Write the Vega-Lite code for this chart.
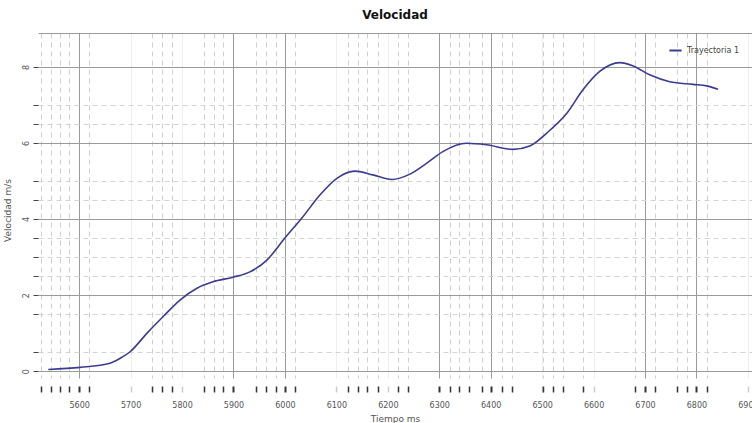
{
  "$schema": "https://vega.github.io/schema/vega-lite/v6.json",
  "width": 714,
  "height": 345,
  "autosize": {"type": "none"},
  "padding": {"left": 38, "top": 33, "right": 0, "bottom": 45},
  "background": "white",
  "title": {"text": "Velocidad", "font": "DejaVu Sans", "fontSize": 12, "fontWeight": "bold", "color": "#111", "anchor": "middle", "offset": 11},
  "config": {"view": {"stroke": null}},
  "data": {"values": [
    {"t": 5540, "v": 0.045, "serie": "Trayectoria 1"},
    {"t": 5602, "v": 0.10, "serie": "Trayectoria 1"},
    {"t": 5660, "v": 0.21, "serie": "Trayectoria 1"},
    {"t": 5680, "v": 0.34, "serie": "Trayectoria 1"},
    {"t": 5699, "v": 0.51, "serie": "Trayectoria 1"},
    {"t": 5732, "v": 1.0, "serie": "Trayectoria 1"},
    {"t": 5763, "v": 1.43, "serie": "Trayectoria 1"},
    {"t": 5796, "v": 1.87, "serie": "Trayectoria 1"},
    {"t": 5829, "v": 2.18, "serie": "Trayectoria 1"},
    {"t": 5860, "v": 2.35, "serie": "Trayectoria 1"},
    {"t": 5899, "v": 2.47, "serie": "Trayectoria 1"},
    {"t": 5932, "v": 2.61, "serie": "Trayectoria 1"},
    {"t": 5965, "v": 2.92, "serie": "Trayectoria 1"},
    {"t": 6000, "v": 3.50, "serie": "Trayectoria 1"},
    {"t": 6035, "v": 4.06, "serie": "Trayectoria 1"},
    {"t": 6068, "v": 4.63, "serie": "Trayectoria 1"},
    {"t": 6101, "v": 5.07, "serie": "Trayectoria 1"},
    {"t": 6136, "v": 5.26, "serie": "Trayectoria 1"},
    {"t": 6171, "v": 5.16, "serie": "Trayectoria 1"},
    {"t": 6208, "v": 5.04, "serie": "Trayectoria 1"},
    {"t": 6243, "v": 5.18, "serie": "Trayectoria 1"},
    {"t": 6276, "v": 5.47, "serie": "Trayectoria 1"},
    {"t": 6307, "v": 5.77, "serie": "Trayectoria 1"},
    {"t": 6353, "v": 5.99, "serie": "Trayectoria 1"},
    {"t": 6392, "v": 5.95, "serie": "Trayectoria 1"},
    {"t": 6443, "v": 5.83, "serie": "Trayectoria 1"},
    {"t": 6476, "v": 5.92, "serie": "Trayectoria 1"},
    {"t": 6509, "v": 6.26, "serie": "Trayectoria 1"},
    {"t": 6548, "v": 6.78, "serie": "Trayectoria 1"},
    {"t": 6579, "v": 7.39, "serie": "Trayectoria 1"},
    {"t": 6612, "v": 7.88, "serie": "Trayectoria 1"},
    {"t": 6651, "v": 8.11, "serie": "Trayectoria 1"},
    {"t": 6676, "v": 8.03, "serie": "Trayectoria 1"},
    {"t": 6709, "v": 7.79, "serie": "Trayectoria 1"},
    {"t": 6748, "v": 7.61, "serie": "Trayectoria 1"},
    {"t": 6793, "v": 7.54, "serie": "Trayectoria 1"},
    {"t": 6820, "v": 7.50, "serie": "Trayectoria 1"},
    {"t": 6842, "v": 7.41, "serie": "Trayectoria 1"}
  ]},
  "mark": {"type": "line", "interpolate": "monotone", "strokeWidth": 1.6, "clip": true},
  "encoding": {
    "x": {
      "field": "t", "type": "quantitative",
      "scale": {"domain": [5520, 6908], "nice": false, "zero": false},
      "axis": {
        "title": "Tiempo ms",
        "titleFont": "DejaVu Sans", "titleFontSize": 9, "titleFontWeight": "normal", "titleColor": "#555", "titlePadding": 5,
        "values": [5526,5546,5563,5581,5600,5619,5700,5742,5761,5781,5800,5843,5862,5880,5900,5944,5963,5983,6000,6020,6100,6123,6142,6160,6181,6200,6220,6239,6300,6321,6338,6358,6383,6400,6422,6441,6500,6502,6521,6540,6579,6600,6680,6700,6719,6762,6781,6800,6820,6900],
        "labelExpr": "datum.value % 100 === 0 ? format(datum.value, 'd') : ''",
        "labelOverlap": false, "labelFlush": false,
        "labelFont": "DejaVu Sans", "labelFontSize": 8, "labelColor": "#555", "labelPadding": 9,
        "domain": false, "offset": 8,
        "tickSize": 6,
        "tickColor": {"condition": {"test": "indexof([5700,5800,6100,6200,6500,6600,6900], datum.value) >= 0", "value": "#cccccc"}, "value": "#333"},
        "tickWidth": {"condition": {"test": "indexof([5600,5900,6000,6300,6400,6700,6800], datum.value) >= 0", "value": 2}, "value": 1.5},
        "grid": true,
        "gridColor": {"condition": [
          {"test": "indexof([5600,5900,6000,6300,6400,6700,6800], datum.value) >= 0", "value": "#9a9a9a"},
          {"test": "indexof([5700,5800,6100,6200,6500,6600,6900], datum.value) >= 0", "value": "#eeeeee"}
        ], "value": "#cfcfcf"},
        "gridDash": {"condition": {"test": "datum.value % 100 === 0", "value": []}, "value": [5, 4]}
      }
    },
    "y": {
      "field": "v", "type": "quantitative",
      "scale": {"domain": [-0.18, 8.89], "nice": false, "zero": false},
      "axis": {
        "title": "Velocidad m/s",
        "titleFont": "DejaVu Sans", "titleFontSize": 9, "titleFontWeight": "normal", "titleColor": "#555",
        "titleX": -26, "titleY": 177, "titleAngle": 270, "titleAlign": "center", "titleBaseline": "bottom",
        "values": [0,0.5,1.5,2,2.5,3,3.5,4,4.5,5,6,6.5,7,8,8.89],
        "labelExpr": "datum.value % 2 === 0 ? format(datum.value, 'd') : ''",
        "labelOverlap": false, "labelFlush": false,
        "labelFont": "DejaVu Sans", "labelFontSize": 8, "labelColor": "#555",
        "labelAngle": 270, "labelAlign": "center", "labelBaseline": "bottom", "labelPadding": 3,
        "domain": false,
        "tickSize": 5,
        "tickColor": "#444",
        "tickOpacity": {"condition": {"test": "datum.value > 8.8", "value": 0}, "value": 1},
        "grid": true,
        "gridColor": {"condition": {"test": "datum.value % 2 === 0 || datum.value > 8.8", "value": "#9a9a9a"}, "value": "#d4d4d4"},
        "gridDash": {"condition": {"test": "datum.value % 2 === 0 || datum.value > 8.8", "value": []}, "value": [5, 4]}
      }
    },
    "color": {
      "field": "serie", "type": "nominal",
      "scale": {"range": ["#3b3b90"]},
      "legend": {
        "title": null, "orient": "none", "legendX": 630, "legendY": 10,
        "symbolType": "stroke", "symbolSize": 150, "symbolStrokeWidth": 2,
        "labelFont": "DejaVu Sans", "labelFontSize": 8, "labelColor": "#444"
      }
    }
  }
}
